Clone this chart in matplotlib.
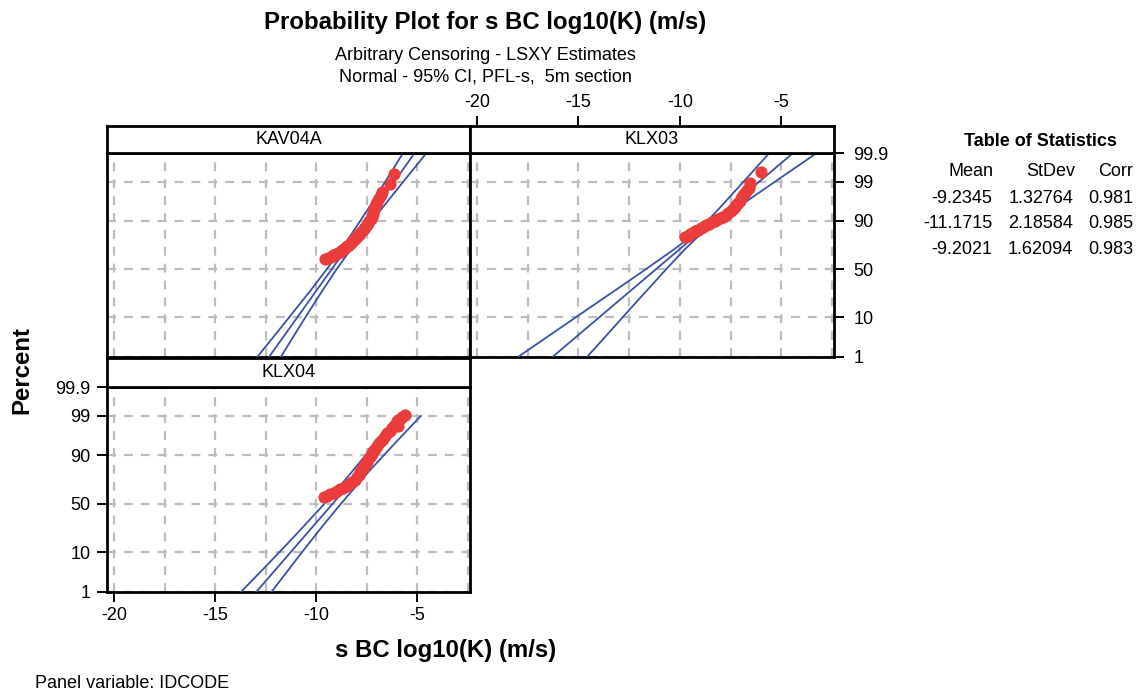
import matplotlib
matplotlib.use('Agg')
import matplotlib.pyplot as plt
import numpy as np
from statistics import NormalDist

# ---------------- data ----------------
panels = ["KAV04A", "KLX03", "KLX04"]
means = [-9.2345, -11.1715, -9.2021]
stdevs = [1.32764, 2.18584, 1.62094]
corrs = [0.981, 0.985, 0.983]

# plotted observations (x = s BC log10(K), p = percent)
kav_x = [-9.59, -9.42, -9.28, -9.15, -9.02, -8.92, -8.82, -8.72, -8.62, -8.54, -8.46, -8.38,
         -8.30, -8.22, -8.14, -8.06, -7.98, -7.90, -7.82, -7.74, -7.66, -7.58, -7.50, -7.44,
         -7.38, -7.32, -7.26, -7.22, -7.18, -7.16, -7.12, -7.06, -6.98, -6.90, -6.82, -6.74,
         -6.38, -6.17]
kav_p = [60.8, 61.8, 63.0, 64.2, 65.5, 66.8, 68.0, 69.2, 70.5, 71.8, 73.0, 74.3,
         75.6, 76.9, 78.2, 79.5, 80.8, 82.0, 83.2, 84.4, 85.6, 86.8, 88.0, 89.0,
         90.0, 91.0, 91.9, 92.8, 93.6, 94.4, 95.1, 95.8, 96.4, 97.0, 97.5, 98.0,
         98.85, 99.45]
klx3_x = [-9.76, -9.62, -9.50, -9.38, -9.26, -9.12, -8.98, -8.84, -8.70, -8.56, -8.42, -8.28,
          -8.14, -8.00, -7.86, -7.74, -7.62, -7.50, -7.40, -7.30, -7.22, -7.14, -7.06, -6.98,
          -6.90, -6.80, -6.70, -6.60, -6.52, -6.00]
klx3_p = [80.0, 81.2, 82.3, 83.3, 84.3, 85.3, 86.2, 87.0, 87.8, 88.6, 89.4, 90.1,
          90.7, 91.3, 91.9, 92.5, 93.1, 93.8, 94.4, 95.0, 95.6, 96.1, 96.6, 97.1,
          97.5, 97.9, 98.2, 98.5, 98.9, 99.52]
klx4_x = [-9.62, -9.46, -9.30, -9.14, -8.98, -8.82, -8.66, -8.50, -8.36, -8.22, -8.08, -7.98,
          -7.90, -7.82, -7.74, -7.66, -7.58, -7.50, -7.42, -7.34, -7.26, -7.18, -7.08, -6.98,
          -6.88, -6.78, -6.68, -6.58, -6.48, -6.38, -6.26, -6.14, -5.97, -6.00, -5.86, -5.75,
          -5.62]
klx4_p = [57.0, 58.4, 59.9, 61.5, 63.2, 65.0, 66.7, 68.4, 70.2, 72.0, 74.0, 76.0,
          78.0, 80.0, 82.0, 83.7, 85.3, 86.8, 88.2, 89.5, 90.7, 91.8, 92.8, 93.7,
          94.5, 95.2, 95.8, 96.4, 96.9, 97.3, 97.7, 98.0, 98.0, 98.6, 98.8, 98.95,
          99.05]

# 95% CI band at several percent levels
band_p = [1, 5, 10, 20, 30, 50, 70, 80, 90, 95, 99, 99.9]
kav_lo = [-12.90, -11.88, -11.34, -10.69, -10.22, -9.48, -8.77, -8.37, -7.83, -7.39, -6.59, -5.71]
kav_hi = [-11.74, -10.96, -10.54, -10.02, -9.64, -8.99, -8.30, -7.87, -7.24, -6.71, -5.70, -4.55]
klx3_lo = [-17.95, -16.11, -15.13, -13.94, -13.08, -11.67, -10.29, -9.51, -8.64, -8.01, -6.86, -5.59]
klx3_hi = [-14.56, -13.42, -12.82, -12.09, -11.55, -10.67, -9.76, -9.15, -8.10, -7.14, -5.31, -3.25]
klx4_band_p = [1, 5, 10, 20, 30, 50, 70, 80, 90, 95, 99]
klx4_lo = [-13.73, -12.49, -11.84, -11.06, -10.51, -9.61, -8.75, -8.25, -7.57, -7.03, -6.04]
klx4_hi = [-12.22, -11.24, -10.72, -10.07, -9.60, -8.79, -7.95, -7.43, -6.67, -6.04, -4.83]

fit_range = [(1, 99.9), (1, 99.9), (1, 99)]

pct_ticks = [1, 10, 50, 90, 99, 99.9]
pct_labels = ["1", "10", "50", "90", "99", "99.9"]
x_major = [-20, -15, -10, -5]
x_minor = [-17.5, -12.5, -7.5, -2.5]

# ---------------- styling ----------------
plt.rcParams['font.family'] = ['Liberation Sans', 'DejaVu Sans']
plt.rcParams['axes.unicode_minus'] = False
BLUE = '#3A52A6'
RED = '#EB3C3C'
GRID = '#BDBDBD'
FS = 13
ND = NormalDist()


def zq(p):
    return ND.inv_cdf(p / 100.0)


W, H = 1146, 692
fig = plt.figure(figsize=(W / 100, H / 100), dpi=100)


def rect(x0, y0, x1, y1):
    return [x0 / W, 1 - y1 / H, (x1 - x0) / W, (y1 - y0) / H]


XLIM = (-20.35, -2.4)
YLIM = (zq(1), zq(99.9))

layout = {
    "KAV04A": (rect(107, 153, 470, 356.5), rect(107, 126, 470, 153)),
    "KLX03": (rect(470, 153, 834, 356.5), rect(470, 126, 834, 153)),
    "KLX04": (rect(107, 387, 470, 592), rect(107, 358, 470, 387)),
}
pts = {"KAV04A": (kav_x, kav_p), "KLX03": (klx3_x, klx3_p), "KLX04": (klx4_x, klx4_p)}
bands = {"KAV04A": (band_p, kav_lo, kav_hi), "KLX03": (band_p, klx3_lo, klx3_hi),
         "KLX04": (klx4_band_p, klx4_lo, klx4_hi)}

SPW = 2.0
for i, name in enumerate(panels):
    r_ax, r_strip = layout[name]
    ax = fig.add_axes(r_ax)
    ax.set_xlim(*XLIM)
    ax.set_ylim(*YLIM)
    ax.set_xticks(x_major)
    ax.set_xticks(x_minor, minor=True)
    ax.set_yticks([zq(p) for p in pct_ticks])
    ax.set_yticklabels(pct_labels)
    ax.grid(True, which='both', axis='both', color=GRID, linewidth=1.6,
            linestyle=(0, (4.0, 3.6)))
    ax.set_axisbelow(True)
    for s in ax.spines.values():
        s.set_linewidth(SPW)
    ax.tick_params(which='minor', length=0)
    # fitted line
    p0, p1 = fit_range[i]
    ax.plot([means[i] + zq(p0) * stdevs[i], means[i] + zq(p1) * stdevs[i]],
            [zq(p0), zq(p1)], color=BLUE, lw=1.3, zorder=3)
    bp, lo, hi = bands[name]
    ax.plot(lo, [zq(p) for p in bp], color=BLUE, lw=1.3, zorder=3)
    ax.plot(hi, [zq(p) for p in bp], color=BLUE, lw=1.3, zorder=3)
    px, pp = pts[name]
    ax.plot(px, [zq(p) for p in pp], 'o', color=RED, ms=8.8, mec=RED, mew=0, zorder=4,
            clip_on=True)

    if name == "KLX03":
        ax.yaxis.tick_right()
        ax.tick_params(axis='y', which='major', direction='out', length=7, width=1.4,
                       labelsize=FS, pad=7)
        ax.tick_params(axis='x', which='major', length=0, labelbottom=False)
    elif name == "KLX04":
        ax.tick_params(axis='y', which='major', direction='out', length=7, width=1.4,
                       labelsize=FS, pad=5)
        ax.tick_params(axis='x', which='major', direction='out', length=7, width=1.4,
                       labelsize=FS, pad=4)
    else:
        ax.tick_params(which='major', length=0, labelbottom=False, labelleft=False)

    sax = fig.add_axes(r_strip)
    sax.set_xlim(*XLIM)
    sax.set_ylim(0, 1)
    sax.set_yticks([])
    for s in sax.spines.values():
        s.set_linewidth(SPW)
    sax.text(0.5, 0.5, name, transform=sax.transAxes, ha='center', va='center',
             fontsize=FS)
    if name == "KLX03":
        sax.set_xticks(x_major)
        sax.xaxis.tick_top()
        sax.tick_params(axis='x', direction='out', length=7, width=1.4, labelsize=FS, pad=4)
    else:
        sax.set_xticks([])


def ftext(x, y, s, **kw):
    fig.text(x / W, 1 - y / H, s, **kw)


ftext(485, 22, "Probability Plot for s BC log10(K) (m/s)", ha='center', va='center',
      fontsize=17.3, fontweight='bold')
ftext(485, 55, "Arbitrary Censoring - LSXY Estimates", ha='center', va='center', fontsize=FS)
ftext(485, 77, "Normal - 95% CI, PFL-s,  5m section", ha='center', va='center', fontsize=FS)
ftext(446, 651, "s BC log10(K) (m/s)", ha='center', va='center', fontsize=17.3,
      fontweight='bold')
ftext(22, 370, "Percent", ha='center', va='center', rotation=90, fontsize=17.3,
      fontweight='bold')
ftext(35, 683, "Panel variable: IDCODE", ha='left', va='center', fontsize=FS)

# table of statistics
ftext(1040, 142, "Table of Statistics", ha='center', va='center', fontsize=FS,
      fontweight='bold')
ftext(994, 171, "Mean", ha='right', va='center', fontsize=FS)
ftext(1075, 171, "StDev", ha='right', va='center', fontsize=FS)
ftext(1133, 171, "Corr", ha='right', va='center', fontsize=FS)
for j in range(len(panels)):
    yy = 198 + j * 25.5
    ftext(992, yy, f"{means[j]:.4f}", ha='right', va='center', fontsize=FS)
    ftext(1073, yy, f"{stdevs[j]:.5f}", ha='right', va='center', fontsize=FS)
    ftext(1133, yy, f"{corrs[j]:.3f}", ha='right', va='center', fontsize=FS)

fig.savefig("out.png", dpi=100)
